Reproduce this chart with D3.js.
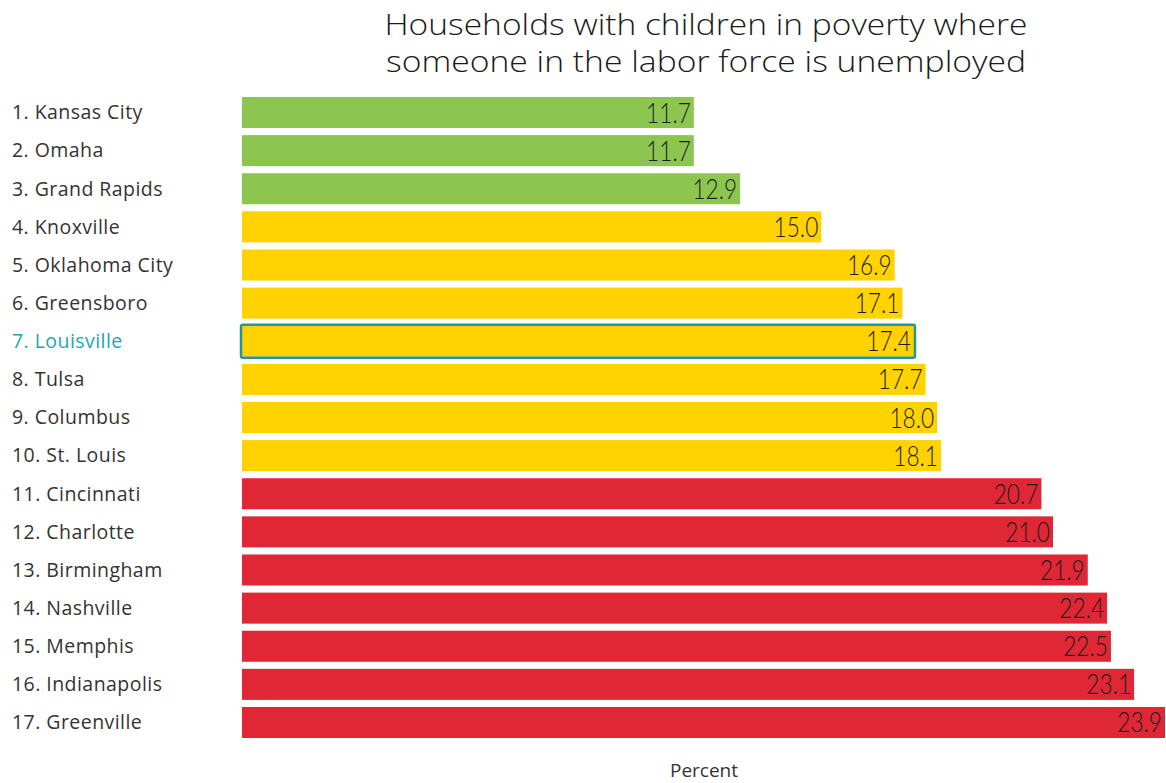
<!DOCTYPE html>
<html>
<head>
<meta charset="utf-8">
<script src="https://cdn.jsdelivr.net/npm/d3@7"></script>
<style>
  html, body { margin: 0; padding: 0; background: #fff; }
  svg { display: block; }
</style>
</head>
<body>
<svg id="chart" width="1166" height="783"></svg>
<script>
// Metro areas ranked by share of poor households with children where someone is unemployed
const cities = [
  "Kansas City", "Omaha", "Grand Rapids", "Knoxville", "Oklahoma City",
  "Greensboro", "Louisville", "Tulsa", "Columbus", "St. Louis",
  "Cincinnati", "Charlotte", "Birmingham", "Nashville", "Memphis",
  "Indianapolis", "Greenville"
];
const values = [
  11.7, 11.7, 12.9, 15.0, 16.9,
  17.1, 17.4, 17.7, 18.0, 18.1,
  20.7, 21.0, 21.9, 22.4, 22.5,
  23.1, 23.9
];
// Tier of each city: top, middle, bottom
const tiers = [
  "top", "top", "top", "mid", "mid",
  "mid", "mid", "mid", "mid", "mid",
  "low", "low", "low", "low", "low",
  "low", "low"
];
const highlightCity = "Louisville";
const titleLines = [
  "Households with children in poverty where",
  "someone in the labor force is unemployed"
];
const axisLabel = "Percent";

const tierColor = { top: "#8cc651", mid: "#ffd200", low: "#df2735" };

const data = cities.map((c, i) => ({
  rank: i + 1, city: c, value: values[i], tier: tiers[i]
}));

const svg = d3.select("#chart");

const x = d3.scaleLinear().domain([0, 23.9]).range([242, 1165]);
const y = d3.scaleBand()
  .domain(data.map(d => d.city))
  .range([89.9, 745.1])
  .paddingInner(0.186)
  .paddingOuter(0.186);

// Title, two centred lines
const titleWidths = [643, 640];
svg.append("g")
  .selectAll("text")
  .data(titleLines)
  .join("text")
  .attr("x", 706)
  .attr("y", (d, i) => 35 + i * 37)
  .attr("text-anchor", "middle")
  .attr("font-family", "'Open Sans', sans-serif")
  .attr("font-weight", 300)
  .attr("font-size", 30)
  .attr("textLength", (d, i) => titleWidths[i])
  .attr("lengthAdjust", "spacingAndGlyphs")
  .attr("fill", "#1a1a1a")
  .text(d => d);

// Bars
svg.append("g")
  .selectAll("rect")
  .data(data)
  .join("rect")
  .attr("x", x(0))
  .attr("y", d => y(d.city))
  .attr("width", d => x(d.value) - x(0))
  .attr("height", y.bandwidth())
  .attr("fill", d => tierColor[d.tier]);

// Outline around the highlighted city
const hl = data.find(d => d.city === highlightCity);
svg.append("rect")
  .attr("x", x(0) - 1)
  .attr("y", y(hl.city) - 1)
  .attr("width", x(hl.value) - x(0) + 2)
  .attr("height", y.bandwidth() + 2)
  .attr("rx", 2)
  .attr("fill", "none")
  .attr("stroke", "#22969a")
  .attr("stroke-width", 2.5);

// Value labels inside bar ends (slightly condensed numerals)
svg.append("g")
  .selectAll("text")
  .data(data)
  .join("text")
  .attr("transform", d =>
    `translate(${x(d.value) - 3},${y(d.city) + y.bandwidth() / 2 + 10}) scale(0.84,1)`)
  .attr("text-anchor", "end")
  .attr("font-family", "Lato, sans-serif")
  .attr("font-weight", 300)
  .attr("font-size", 27)
  .attr("fill", "#1d1d1d")
  .text(d => d.value.toFixed(1));

// City labels
svg.append("g")
  .selectAll("text")
  .data(data)
  .join("text")
  .attr("x", 12)
  .attr("y", d => y(d.city) + y.bandwidth() / 2 + 6.8)
  .attr("font-family", "'Open Sans', sans-serif")
  .attr("font-weight", 400)
  .attr("font-size", 19.5)
  .attr("letter-spacing", 0.45)
  .attr("fill", d => d.city === highlightCity ? "#1ea7b3" : "#333")
  .text(d => `${d.rank}. ${d.city}`);

// Axis title
svg.append("text")
  .attr("x", 704)
  .attr("y", 777)
  .attr("text-anchor", "middle")
  .attr("font-family", "'Open Sans', sans-serif")
  .attr("font-weight", 400)
  .attr("font-size", 19)
  .attr("fill", "#333")
  .text(axisLabel);
</script>
</body>
</html>
